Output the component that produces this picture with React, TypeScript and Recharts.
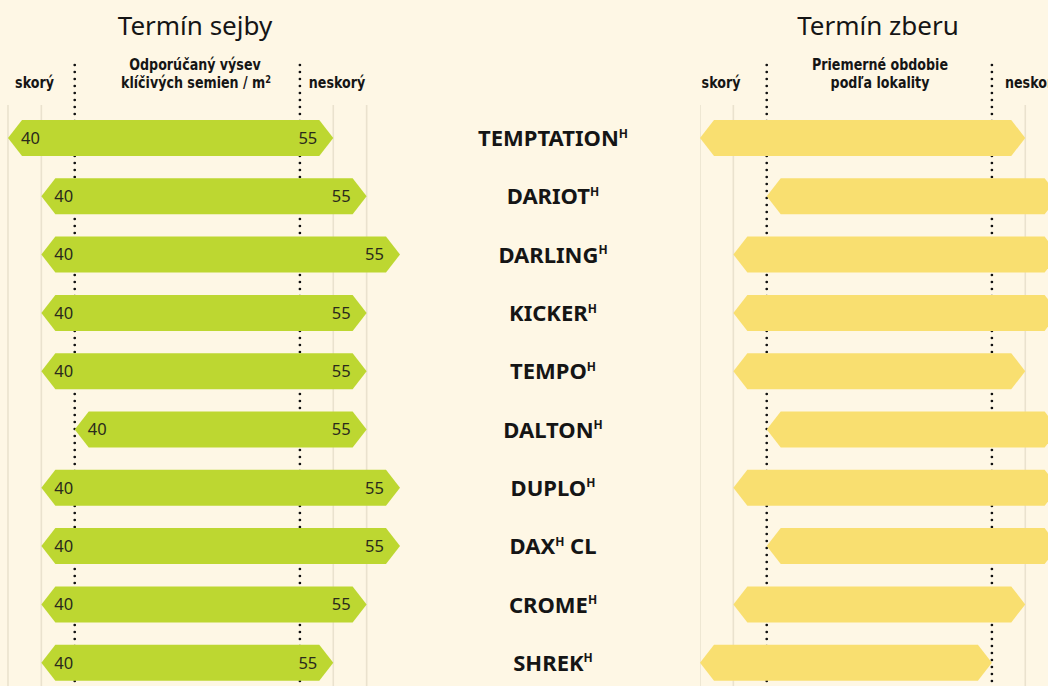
import React from 'react';
import { BarChart, Bar, XAxis, YAxis, ReferenceLine } from 'recharts';

const varieties = ['TEMPTATION', 'DARIOT', 'DARLING', 'KICKER', 'TEMPO', 'DALTON', 'DUPLO', 'DAX', 'CROME', 'SHREK'];
const nameSuffix = ['', '', '', '', '', '', '', ' CL', '', ''];

// positions on the schematic time scale: 0-1 early columns, 2..8.75 main window, 9.75+ late columns
const sowStart = [0, 1, 1, 1, 1, 2, 1, 1, 1, 1];
const sowEnd = [9.75, 10.75, 11.75, 10.75, 10.75, 10.75, 11.75, 11.75, 10.75, 9.75];
const seedsLow = [40, 40, 40, 40, 40, 40, 40, 40, 40, 40];
const seedsHigh = [55, 55, 55, 55, 55, 55, 55, 55, 55, 55];
const harvestStart = [0, 2, 1, 1, 1, 2, 1, 2, 1, 0];
const harvestEnd = [9.75, 10.75, 10.75, 10.75, 9.75, 10.75, 10.75, 10.75, 9.75, 8.75];

const mainWindow = [2, 8.75];
const gridMarks = [0, 1, 9.75, 10.75];
const scaleDomain = [0, 11.75];

const BG = '#FEF7E5';
const GREEN = '#BDD731';
const YELLOW = '#F9DF70';
const GRID = '#EAE2CE';
const TEXT = '#151515';

const rows = varieties.map((name, i) => ({
  name,
  suffix: nameSuffix[i],
  sow: [sowStart[i], sowEnd[i]],
  low: seedsLow[i],
  high: seedsHigh[i],
  harvest: [harvestStart[i], harvestEnd[i]],
}));

const TOP = 109;
const CHART_H = 692;
const PLOT_W = 392;
const NAME_W = 310;
const NAME_CENTER = 153;

const hexPath = (x: number, y: number, w: number, h: number) => {
  const t = Math.min(14, w / 2);
  return `M${x},${y + h / 2}L${x + t},${y}L${x + w - t},${y}L${x + w},${y + h / 2}L${x + w - t},${y + h}L${x + t},${y + h}Z`;
};

const SowShape = (p: any) => {
  const { x, y, width, height, payload } = p;
  const cy = y + height / 2 + 5.8;
  return (
    <g>
      <path d={hexPath(x, y, width, height)} fill={GREEN} />
      <text x={x + 13} y={cy} fontSize={16.5} fill="#2a2a1c" fontFamily="'Noto Sans', sans-serif">{payload.low}</text>
      <text x={x + width - 16} y={cy} fontSize={16.5} fill="#2a2a1c" textAnchor="end" fontFamily="'Noto Sans', sans-serif">
        {payload.high}
      </text>
    </g>
  );
};

const HarvestShape = (p: any) => <path d={hexPath(p.x, p.y, p.width, p.height)} fill={YELLOW} />;

const NameTick = (p: any) => {
  const { x, y, payload, index } = p;
  const suffix = rows[index] ? rows[index].suffix : '';
  return (
    <text x={x + NAME_CENTER} y={y + 8} textAnchor="middle" fontSize={22} fontWeight={700} fill={TEXT} fontFamily="'Noto Sans', sans-serif">
      <tspan>{payload.value}</tspan>
      <tspan fontSize={12} dy={-8.5}>H</tspan>
      {suffix ? <tspan dy={8.5}>{suffix}</tspan> : null}
    </text>
  );
};

const DotLine = (p: any) => (
  <line
    x1={p.x1}
    x2={p.x2}
    y1={Math.min(p.y1, p.y2) - 44}
    y2={Math.max(p.y1, p.y2)}
    stroke="#111"
    strokeWidth={2.7}
    strokeLinecap="round"
    strokeDasharray="0 7"
  />
);

const GridLine = (p: any) => (
  <line x1={p.x1} x2={p.x2} y1={Math.min(p.y1, p.y2) - 4} y2={Math.max(p.y1, p.y2)} stroke={GRID} strokeWidth={1.6} />
);

const subFont = "'DejaVu Sans Condensed', 'DejaVu Sans', sans-serif";

// condensed bold captions, squeezed a little horizontally
function Sub({ x, y, anchor = 'middle', children }: { x: number; y: number; anchor?: 'middle' | 'start'; children: React.ReactNode }) {
  return (
    <g transform={`translate(${x},${y}) scale(0.88,1)`}>
      <text x={0} y={0} fontSize={16} fontWeight={700} fill={TEXT} fontFamily={subFont} textAnchor={anchor}>
        {children}
      </text>
    </g>
  );
}

function Headers() {
  const title = { fontSize: 26, fill: TEXT, fontFamily: "'Noto Sans', sans-serif", textAnchor: 'middle' as const };
  return (
    <svg width={1048} height={110} style={{ position: 'absolute', left: 0, top: 0 }}>
      <text x={195} y={35} {...title}>Termín sejby</text>
      <text x={878} y={35} {...title}>Termín zberu</text>

      <Sub x={34.5} y={88}>skorý</Sub>
      <Sub x={195} y={70}>Odporúčaný výsev</Sub>
      <Sub x={196} y={88}>
        klíčivých semien / m<tspan fontSize={10.5} dy={-5.5}>2</tspan>
      </Sub>
      <Sub x={337} y={88}>neskorý</Sub>

      <Sub x={721} y={88}>skorý</Sub>
      <Sub x={880} y={70}>Priemerné obdobie</Sub>
      <Sub x={880} y={88}>podľa lokality</Sub>
      <Sub x={1005} y={88} anchor="start">neskorý</Sub>
    </svg>
  );
}

// the scale lines sit in their own chart underneath, so the bars cover them
function ScaleLines({ withNames }: { withNames: boolean }) {
  return (
    <BarChart
      width={withNames ? 8 + PLOT_W + NAME_W : PLOT_W}
      height={CHART_H}
      data={rows}
      layout="vertical"
      margin={{ top: TOP, right: 0, left: withNames ? 8 : 0, bottom: 0 }}
    >
      <XAxis type="number" domain={scaleDomain} hide allowDataOverflow />
      {withNames ? (
        <YAxis type="category" dataKey="name" orientation="right" width={NAME_W} axisLine={false} tickLine={false} tick={false} />
      ) : (
        <YAxis type="category" dataKey="name" hide />
      )}
      {gridMarks.map((g) => (
        <ReferenceLine key={'g' + g} x={g} shape={GridLine} />
      ))}
      {mainWindow.map((m) => (
        <ReferenceLine key={'m' + m} x={m} shape={DotLine} />
      ))}
    </BarChart>
  );
}

const layer = (left: number) => ({ position: 'absolute' as const, left, top: 0 });

export default function App() {
  return (
    <div style={{ position: 'fixed', left: 0, top: 0, width: 1048, height: 686, overflow: 'hidden', background: BG }}>
      <Headers />
      <div style={layer(0)}>
        <ScaleLines withNames />
      </div>
      <div style={layer(0)}>
        <BarChart
          width={8 + PLOT_W + NAME_W}
          height={CHART_H}
          data={rows}
          layout="vertical"
          margin={{ top: TOP, right: 0, left: 8, bottom: 0 }}
        >
          <XAxis type="number" domain={scaleDomain} hide allowDataOverflow />
          <YAxis
            type="category"
            dataKey="name"
            orientation="right"
            width={NAME_W}
            axisLine={false}
            tickLine={false}
            tickSize={0}
            tickMargin={0}
            tick={<NameTick />}
            interval={0}
          />
          <Bar dataKey="sow" barSize={36} shape={<SowShape />} isAnimationActive={false} />
        </BarChart>
      </div>
      <div style={layer(700)}>
        <ScaleLines withNames={false} />
      </div>
      <div style={layer(700)}>
        <BarChart
          width={PLOT_W}
          height={CHART_H}
          data={rows}
          layout="vertical"
          margin={{ top: TOP, right: 0, left: 0, bottom: 0 }}
        >
          <XAxis type="number" domain={scaleDomain} hide allowDataOverflow />
          <YAxis type="category" dataKey="name" hide />
          <Bar dataKey="harvest" barSize={36} shape={<HarvestShape />} isAnimationActive={false} />
        </BarChart>
      </div>
    </div>
  );
}
